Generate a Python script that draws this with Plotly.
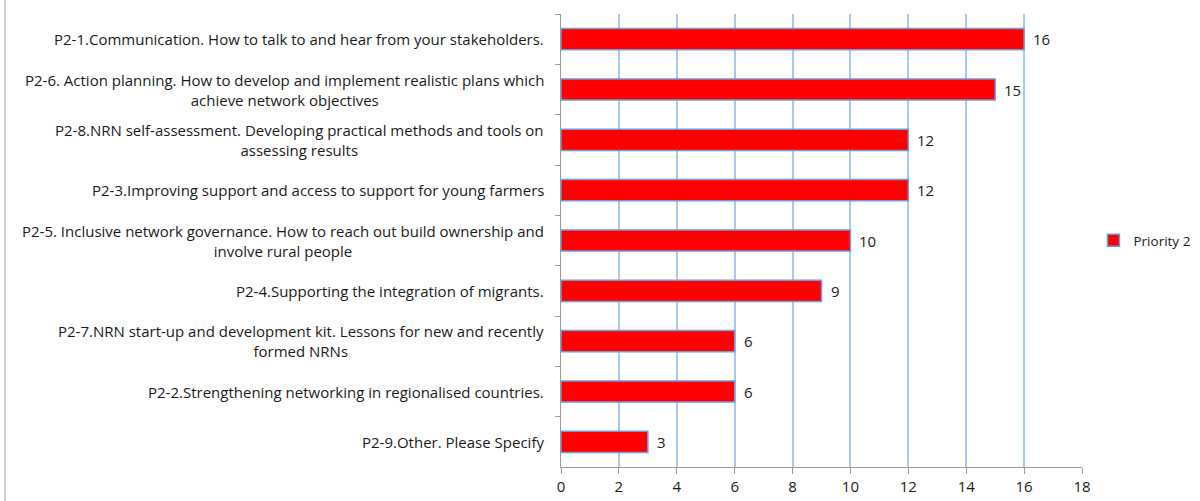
import plotly.graph_objects as go

categories = [
    "P2-1.Communication. How to talk to and hear from your stakeholders.",
    "P2-6. Action planning. How to develop and implement realistic plans which<br>achieve network objectives",
    "P2-8.NRN self-assessment. Developing practical methods and tools on<br>assessing results",
    "P2-3.Improving support and access to support for young farmers",
    "P2-5. Inclusive network governance. How to reach out build ownership and<br>involve rural people",
    "P2-4.Supporting the integration of migrants.",
    "P2-7.NRN start-up and development kit. Lessons for new and recently<br>formed NRNs",
    "P2-2.Strengthening networking in regionalised countries.",
    "P2-9.Other. Please Specify",
]
values = [16, 15, 12, 12, 10, 9, 6, 6, 3]
series_name = "Priority 2"
x_ticks = [0, 2, 4, 6, 8, 10, 12, 14, 16, 18]

FONT = "Open Sans"
TXT = "#1a1a1a"
FS = 15

fig = go.Figure()
fig.add_trace(go.Bar(
    y=categories, x=values, orientation="h", name=series_name,
    marker=dict(color="#FF0000", line=dict(color="#6F9BD8", width=1.5)),
    width=0.42, showlegend=True,
))

annotations = []
for c, v in zip(categories, values):
    annotations.append(dict(
        x=v, y=c, xref="x", yref="y", text=str(v), showarrow=False,
        xanchor="left", xshift=7, font=dict(family=FONT, size=FS, color=TXT),
    ))
    annotations.append(dict(
        x=0, y=c, xref="paper", yref="y", text=c, showarrow=False,
        xanchor="right", xshift=-15, align="center",
        font=dict(family=FONT, size=FS, color=TXT),
    ))

fig.update_layout(
    width=1200, height=501,
    margin=dict(l=561, r=118, t=14, b=34, autoexpand=False),
    paper_bgcolor="white", plot_bgcolor="white",
    font=dict(family=FONT, size=FS, color=TXT),
    bargap=0.58,
    annotations=annotations,
    legend=dict(x=1.022, y=0.5, xanchor="left", yanchor="middle",
                font=dict(family=FONT, size=13.5, color=TXT), itemwidth=30),
    shapes=[dict(type="line", xref="paper", yref="paper", x0=-1.0672, x1=-1.0672,
                 y0=-0.1, y1=1.05, line=dict(color="#A0A0A0", width=1))],
    xaxis=dict(range=[0, 18], tickvals=x_ticks, showgrid=True, gridcolor="#A9C9EA",
               gridwidth=1.5, zeroline=False, showline=True, linecolor="#9A9A9A",
               linewidth=1.2, ticks="outside", ticklen=6, tickcolor="#9A9A9A",
               tickfont=dict(family=FONT, size=FS, color=TXT)),
    yaxis=dict(type="category", categoryorder="array", categoryarray=categories,
               autorange="reversed", showticklabels=False, showgrid=False,
               showline=True, linecolor="#9A9A9A", linewidth=1.2,
               ticks="outside", tickson="boundaries", ticklen=5, tickcolor="#9A9A9A"),
)

fig.write_html("out.html", config={"displayModeBar": False},
               post_script="document.body.style.margin='0';")
